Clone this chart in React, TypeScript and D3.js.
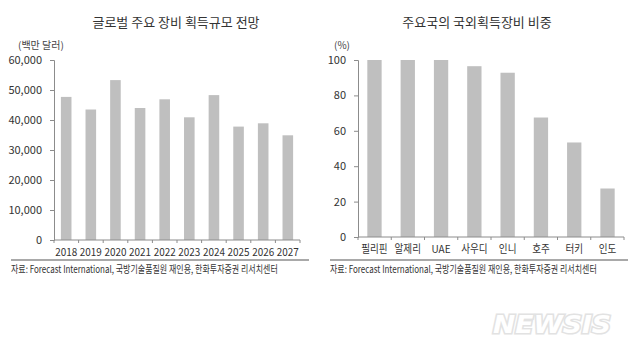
import { useEffect, useRef } from 'react';
import * as d3 from 'd3';

const years = ['2018', '2019', '2020', '2021', '2022', '2023', '2024', '2025', '2026', '2027'];
const spending = [47700, 43500, 53300, 44000, 46900, 40900, 48300, 37800, 38900, 34900];
const spendTicks = [0, 10000, 20000, 30000, 40000, 50000, 60000];

const countries = ['필리핀', '알제리', 'UAE', '사우디', '인니', '호주', '터키', '인도'];
const shares = [100, 100, 100, 96.5, 92.8, 67.5, 53.4, 27.4];
const shareTicks = [0, 20, 40, 60, 80, 100];

const FONT = '"Noto Sans CJK KR", "Noto Sans", sans-serif';
const BAR = '#bfbfbf';
const AXIS = '#8c8c8c';
const SOURCE = '자료: Forecast International, 국방기술품질원 재인용, 한화투자증권 리서치센터';

// squeeze a text horizontally to a given width (keeps glyph height)
const squeezed = (parent, x, y, width, text, size) => {
  const g = parent.append('g');
  const t = g.append('text').style('font-size', size).style('fill', '#333').text(text);
  const w = t.node().getComputedTextLength() || width;
  g.attr('transform', `translate(${x},${y}) scale(${width / w},1)`);
  return g;
};

const drawPanel = (svg, opt) => {
  const g = svg.append('g');

  const x = d3.scaleBand().domain(opt.cats).range([opt.x0, opt.x1]).paddingInner(0.57).paddingOuter(0.28);
  const y = d3.scaleLinear().domain([0, opt.max]).range([opt.y0, opt.yTop]);

  // title
  g.append('text')
    .attr('x', opt.titleX)
    .attr('y', 27)
    .attr('text-anchor', 'middle')
    .style('font-size', '13px')
    .style('fill', '#333')
    .text(opt.title);

  // unit
  g.append('text')
    .attr('x', opt.unitX)
    .attr('y', 49)
    .style('font-size', '10px')
    .style('fill', '#444')
    .text(opt.unit);

  // bars
  g.selectAll('rect.bar')
    .data(opt.values)
    .enter()
    .append('rect')
    .attr('class', 'bar')
    .attr('x', (d, i) => x(opt.cats[i]))
    .attr('y', d => y(d))
    .attr('width', x.bandwidth())
    .attr('height', d => opt.y0 - y(d))
    .attr('fill', BAR);

  // y axis
  const yAxis = g
    .append('g')
    .attr('transform', `translate(${opt.x0},0)`)
    .call(d3.axisLeft(y).tickValues(opt.ticks).tickSize(4).tickPadding(8).tickFormat(opt.fmt));
  yAxis.select('.domain').attr('stroke', AXIS);
  yAxis.selectAll('line').attr('stroke', AXIS);
  yAxis.selectAll('text').style('font-size', '11px').style('fill', '#333').style('font-family', FONT);

  // x axis: ticks between categories
  g.append('line')
    .attr('x1', opt.x0)
    .attr('x2', opt.x1)
    .attr('y1', opt.y0)
    .attr('y2', opt.y0)
    .attr('stroke', AXIS);
  const bounds = d3.range(opt.cats.length + 1).map(i => opt.x0 + i * ((opt.x1 - opt.x0) / opt.cats.length));
  g.selectAll('line.xt')
    .data(bounds)
    .enter()
    .append('line')
    .attr('class', 'xt')
    .attr('x1', d => d)
    .attr('x2', d => d)
    .attr('y1', opt.y0)
    .attr('y2', opt.y0 + 3)
    .attr('stroke', AXIS);

  // category labels, narrowed to the reference's condensed look
  g.selectAll('text.xl')
    .data(opt.cats)
    .enter()
    .append('text')
    .attr('class', 'xl')
    .attr('x', d => x(d) + x.bandwidth() / 2 - opt.catLen(d) / 2)
    .attr('y', opt.y0 + 16)
    .attr('textLength', d => opt.catLen(d))
    .attr('lengthAdjust', 'spacingAndGlyphs')
    .style('font-size', '11px')
    .style('fill', '#333')
    .text(d => d);

  // source line
  g.append('line')
    .attr('x1', opt.lineX0)
    .attr('x2', opt.lineX1)
    .attr('y1', 260)
    .attr('y2', 260)
    .attr('stroke', '#555')
    .attr('stroke-width', 1.2);

  squeezed(g, opt.lineX0, 273, opt.srcLen, SOURCE, '10px');
};

const App = () => {
  const svgRef = useRef(null);

  useEffect(() => {
    const svg = d3.select(svgRef.current);
    svg.selectAll('*').remove();

    drawPanel(svg, {
      cats: years,
      values: spending,
      ticks: spendTicks,
      max: 60000,
      fmt: d3.format(','),
      x0: 54,
      x1: 300,
      y0: 240,
      yTop: 60,
      title: '글로벌 주요 장비 획득규모 전망',
      titleX: 176,
      unit: '(백만 달러)',
      unitX: 18,
      catLen: () => 22,
      lineX0: 11,
      lineX1: 309,
      srcLen: 267
    });

    drawPanel(svg, {
      cats: countries,
      values: shares,
      ticks: shareTicks,
      max: 100,
      fmt: d => String(d),
      x0: 358,
      x1: 624,
      y0: 237,
      yTop: 60,
      title: '주요국의 국외획득장비 비중',
      titleX: 477,
      unit: '(%)',
      unitX: 334,
      catLen: d => (d === 'UAE' ? 19 : d.length * 8.8),
      lineX0: 330,
      lineX1: 628,
      srcLen: 267
    });

    // watermark
    svg.append('text')
      .attr('x', 493)
      .attr('y', 333)
      .attr('textLength', 118)
      .attr('lengthAdjust', 'spacingAndGlyphs')
      .style('font-size', '24px')
      .style('font-weight', 'bold')
      .style('font-style', 'italic')
      .style('font-family', '"DejaVu Sans", sans-serif')
      .style('fill', '#fff')
      .style('stroke', '#e2e2e2')
      .style('stroke-width', 3)
      .style('paint-order', 'stroke')
      .text('NEWSIS');
  }, []);

  return (
    <svg
      ref={svgRef}
      width={639}
      height={354}
      style={{ position: 'absolute', left: 0, top: 0, background: '#fff', fontFamily: FONT }}
    />
  );
};

export default App;
